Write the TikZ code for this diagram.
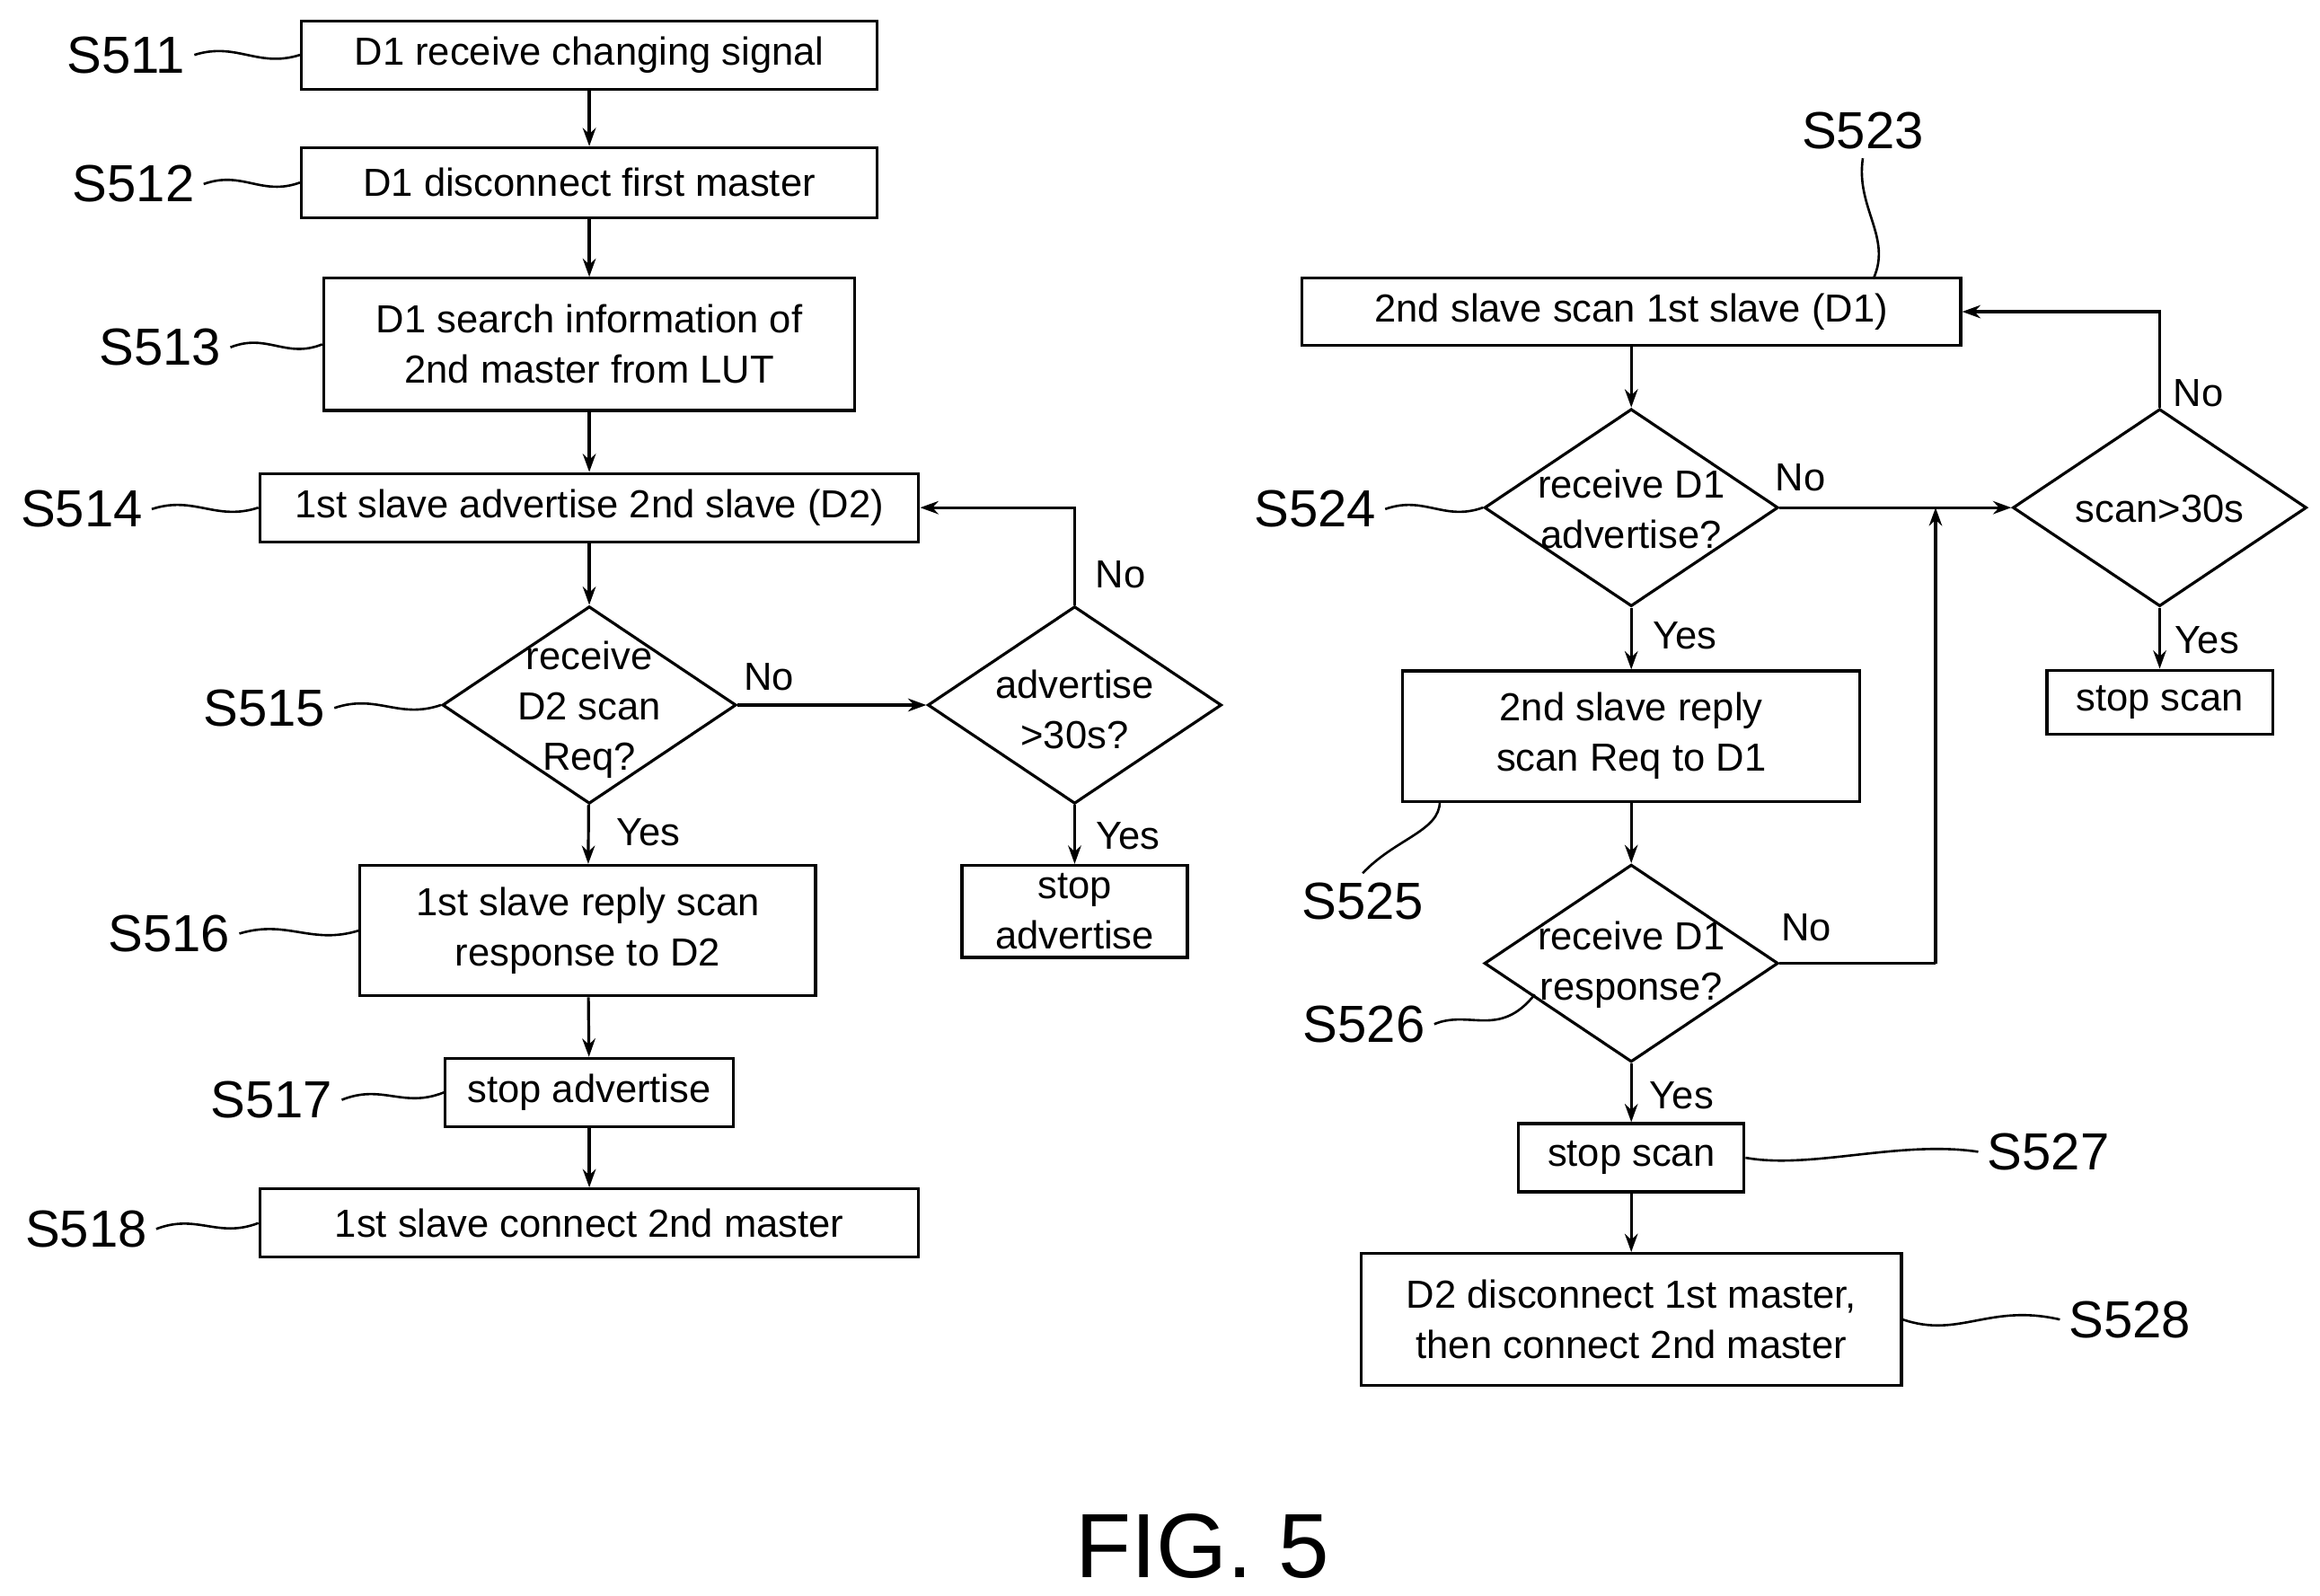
\documentclass[tikz,border=0pt]{standalone}
\usepackage{fontspec}
\setmainfont{Liberation Sans}
\usetikzlibrary{shapes.geometric,arrows.meta,calc}
\begin{document}
\begin{tikzpicture}[x=0.02cm,y=-0.02cm,
  box/.style={draw,line width=1.1pt,inner sep=0,align=center,font=\fontsize{15}{19.3}\selectfont},
  dia/.style={draw,line width=1.1pt,diamond,inner sep=0,minimum width=3.96cm,minimum height=2.66cm},
  dt/.style={align=center,font=\fontsize{15}{19.3}\selectfont},
  lab/.style={font=\fontsize{20}{24}\selectfont},
  yn/.style={font=\fontsize{15}{18}\selectfont},
  arr/.style={line width=1.1pt,-{Stealth[length=7pt,width=5pt]}},
  ln/.style={line width=1.1pt},
  wv/.style={line width=0.9pt}]
\useasboundingbox (0,0) rectangle (1563,1075);
% left
\node[box,minimum width=7.76cm,minimum height=0.92cm] (b511) at (397,37) {D1 receive changing signal};
\node[box,minimum width=7.76cm,minimum height=0.94cm] (b512) at (397,123) {D1 disconnect first master};
\node[box,minimum width=7.16cm,minimum height=1.78cm] (b513) at (397,232) {D1 search information of\\ 2nd master from LUT};
\node[box,minimum width=8.88cm,minimum height=0.92cm] (b514) at (397,342) {1st slave advertise 2nd slave (D2)};
\node[dia] (d515) at (397,475) {};
\node[dt] at (397,478) {receive\\D2 scan\\Req?};
\node[box,minimum width=6.14cm,minimum height=1.76cm] (b516) at (396,627) {1st slave reply scan\\response to D2};
\node[box,minimum width=3.88cm,minimum height=0.92cm] (b517) at (397,736) {stop advertise};
\node[box,minimum width=8.88cm,minimum height=0.92cm] (b518) at (397,824) {1st slave connect 2nd master};
\node[dia] (dadv) at (724,475) {};
\node[dt] at (724,478) {advertise\\>30s?};
\node[box,minimum width=3.04cm,minimum height=1.24cm] (bsa) at (724,614) {stop\\advertise};
\draw[arr] (b511) -- (b512);
\draw[arr] (b512) -- (b513);
\draw[arr] (b513) -- (b514);
\draw[arr] (b514) -- (d515);
\draw[arr] (d515) -- (b516);
\draw[arr] (b516) -- (b517);
\draw[arr] (b517) -- (b518);
\draw[arr] (d515.east) -- (dadv.west);
\draw[arr] (dadv) -- (bsa);
\draw[arr] (dadv.north) |- (b514.east);
\node[yn] at (518,456) {No};
\node[yn] at (437,561) {Yes};
\node[yn] at (760,563) {Yes};
\node[yn] at (755,387) {No};
% right
\node[box,minimum width=8.88cm,minimum height=0.9cm] (b523) at (1099,210) {2nd slave scan 1st slave (D1)};
\node[dia] (d524) at (1099,342) {};
\node[dt] at (1099,343) {receive D1\\advertise?};
\node[box,minimum width=6.16cm,minimum height=1.76cm] (b525) at (1099,496) {2nd slave reply\\scan Req to D1};
\node[dia] (d526) at (1099,649) {};
\node[dt] at (1099,650) {receive D1\\response?};
\node[box,minimum width=3.04cm,minimum height=0.92cm] (b527) at (1099,780) {stop scan};
\node[box,minimum width=7.28cm,minimum height=1.78cm] (b528) at (1099,889) {D2 disconnect 1st master,\\then connect 2nd master};
\node[dia] (d30) at (1455,342) {};
\node[dt] at (1455,343) {scan>30s};
\node[box,minimum width=3.04cm,minimum height=0.86cm] (bss) at (1455,473) {stop scan};
\coordinate (j) at (1304,649);
\draw[arr] (b523) -- (d524);
\draw[arr] (d524) -- (b525);
\draw[arr] (b525) -- (d526);
\draw[arr] (d526) -- (b527);
\draw[arr] (b527) -- (b528);
\draw[arr] (d524.east) -- (d30.west);
\draw[arr] (d30) -- (bss);
\draw[arr] (d30.north) |- (b523.east);
\draw[ln] (d526.east) -- (j);
\draw[arr] (j) -- (1304,342);
\node[yn] at (1213,322) {No};
\node[yn] at (1135,428) {Yes};
\node[yn] at (1487,431) {Yes};
\node[yn] at (1481,265) {No};
\node[yn] at (1217,625) {No};
\node[yn] at (1133,738) {Yes};
% labels
\node[lab] (l511) at (85,37) {S511};
\node[lab] (l512) at (90,124) {S512};
\node[lab] (l513) at (108,234) {S513};
\node[lab] (l514) at (55,343) {S514};
\node[lab] (l515) at (178,477) {S515};
\node[lab] (l516) at (114,629) {S516};
\node[lab] (l517) at (183,741) {S517};
\node[lab] (l518) at (58,828) {S518};
\node[lab] (l523) at (1255,88) {S523};
\node[lab] (l524) at (886,343) {S524};
\node[lab] (l525) at (918,607) {S525};
\node[lab] (l526) at (919,690) {S526};
\node[lab] (l527) at (1380,776) {S527};
\node[lab] (l528) at (1435,889) {S528};
\foreach \a/\b in {l511/b511,l512/b512,l513/b513,l514/b514,l515/d515,l516/b516,l517/b517,l518/b518,l524/d524}
  \draw[wv] (\a.east) .. controls ($(\a.east)!0.4!(\b.west)+(0,-9)$) and ($(\a.east)!0.6!(\b.west)+(0,9)$) .. (\b.west);
\draw[wv] (l527.west) .. controls (1280,768) and (1220,788) .. (b527.east);
\draw[wv] (l528.west) .. controls (1340,878) and (1320,902) .. (b528.east);
\draw[wv] (l523.south) .. controls (1250,140) and (1275,160) .. (1262,188);
\draw[wv] (l525.north) .. controls (940,565) and (970,560) .. (970,540);
\draw[wv] (l526.east) .. controls (990,680) and (1010,700) .. (1034,670);
\node[font=\fontsize{35}{40}\selectfont] (fig) at (810,1042) {FIG. 5};
\end{tikzpicture}
\end{document}
